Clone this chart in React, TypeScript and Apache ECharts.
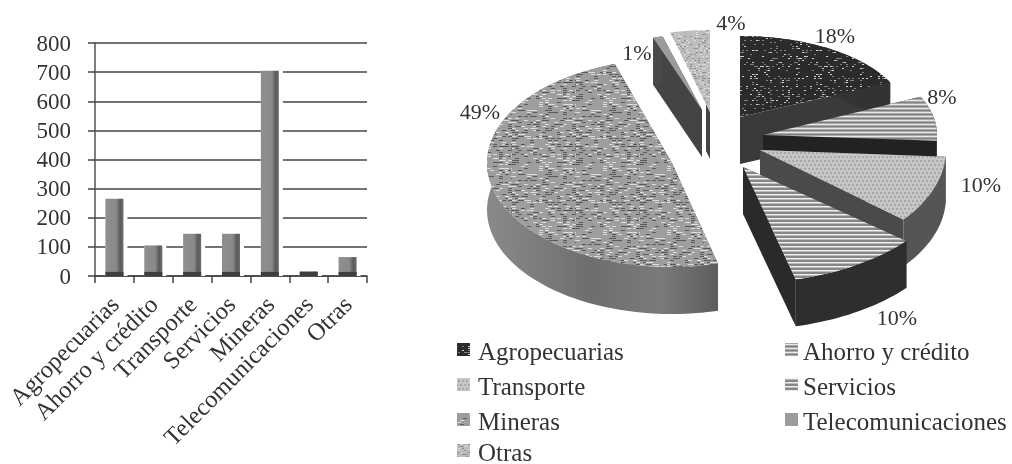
import React, { useEffect, useRef } from "react";
import * as echarts from "echarts";

const categories = ["Agropecuarias", "Ahorro y crédito", "Transporte", "Servicios", "Mineras", "Telecomunicaciones", "Otras"];
const barValues = [265, 105, 145, 145, 705, 15, 65];
const barBase = [14, 14, 14, 14, 14, 15, 14];
const yTicks = { min: 0, max: 800, interval: 100 };
const piePercents = [18, 8, 10, 10, 49, 1, 4];

// Layout of the exploded perspective pie (not data)
const pieCenter = [727, 145];
const explodeX = [13, 36, 33, 16, -55, -25, -17];
const explodeY = [-28, -10, 5, 22, 18, -35, -33];
const sliceRx = [166, 174, 186, 212, 185, 158, 160];
const sliceRy = [81, 90, 109, 116, 104, 76, 82];
const sliceDepth = 47;
const paintOrder = [6, 5, 0, 1, 2, 4, 3];
const startWallReach = [1, 1, 1, 1, 1, 1, 0.1];
const labelPos = [[835, 35], [942, 96], [981, 184], [897, 317], [480, 111], [637, 52], [731, 22]];
const wallColors = ["#333333", "#222222", "#555555", "#2e2e2e", "#777777", "#4a4a4a", "#555555"];
const radialColors = ["#3a3a3a", "#222222", "#4a4a4a", "#2a2a2a", "#666666", "#444444", "#444444"];
const legendCols = [457, 785];
const legendRows = [350, 385, 420, 451];
const FONT = "'Liberation Serif', serif";

function noise(x: number, y: number, s: number) {
  let h = (x * 374761393 + y * 668265263 + s * 1442695041) | 0;
  h = Math.imul(h ^ (h >>> 13), 1274126177);
  return ((h ^ (h >>> 16)) >>> 0) / 4294967296;
}

function makeTexture(kind: number) {
  const size = 64;
  const c = document.createElement("canvas");
  c.width = size;
  c.height = size;
  const g = c.getContext("2d")!;
  const fill = (col: string) => { g.fillStyle = col; g.fillRect(0, 0, size, size); };
  const dot = (x: number, y: number, w: number, h: number, col: string) => { g.fillStyle = col; g.fillRect(x, y, w, h); };
  if (kind === 0) {
    fill("#2b2b2b");
    for (let y = 0; y < size; y += 2) for (let x = 0; x < size; x += 2) {
      const n = noise(x, y, 1);
      if (n > 0.78) dot(x, y, 2, 1, n > 0.92 ? "#cfcfcf" : "#808080");
    }
  } else if (kind === 1) {
    fill("#a8a8a8");
    for (let y = 0; y < size; y += 4) { dot(0, y, size, 1, "#e8e8e8"); dot(0, y + 2, size, 1, "#808080"); }
  } else if (kind === 2) {
    fill("#c6c6c6");
    for (let y = 0; y < size; y += 4) for (let x = (y % 8 === 0 ? 0 : 2); x < size; x += 4) dot(x, y, 2, 2, "#a8a8a8");
  } else if (kind === 3) {
    fill("#bcbcbc");
    for (let y = 0; y < size; y += 4) { dot(0, y, size, 2, "#868686"); dot(0, y + 2, size, 1, "#efefef"); }
  } else if (kind === 4) {
    fill("#9e9e9e");
    for (let y = 0; y < size; y += 2) for (let x = 0; x < size; x += 3) {
      const n = noise(x, y, 2);
      if (n > 0.8) dot(x, y, 4, 1, "#5a5a5a");
      else if (n < 0.18) dot(x, y, 4, 1, "#dcdcdc");
    }
  } else if (kind === 5) {
    fill("#9c9c9c");
  } else {
    fill("#bdbdbd");
    for (let y = 0; y < size; y += 2) for (let x = 0; x < size; x += 2) {
      const n = noise(x, y, 3);
      if (n > 0.8) dot(x, y, 2, 1, "#8f8f8f");
      else if (n < 0.2) dot(x, y, 2, 1, "#dedede");
    }
  }
  return { image: c.toDataURL(), repeat: "repeat", imageWidth: size, imageHeight: size } as any;
}

export default function App() {
  const ref = useRef<HTMLDivElement>(null);
  useEffect(() => {
    document.body.style.margin = "0";
    const chart = echarts.init(ref.current!, null, { renderer: "svg" });
    const textures = categories.map((_, i) => makeTexture(i));
    const total = piePercents.reduce((a, b) => a + b, 0);
    const starts: number[] = [];
    piePercents.reduce((acc, v, i) => { starts[i] = acc; return acc + v; }, 0);

    const renderSlice = (params: any, api: any) => {
      const i = paintOrder[params.dataIndex];
      const value = api.value(0);
      const a0 = (starts[i] / total) * Math.PI * 2;
      const a1 = a0 + (value / total) * Math.PI * 2;
      const ax = pieCenter[0] + explodeX[i];
      const ay = pieCenter[1] + explodeY[i];
      const rim: number[][] = [];
      const steps = Math.max(3, Math.ceil((a1 - a0) / 0.03));
      for (let k = 0; k <= steps; k++) {
        const t = a0 + ((a1 - a0) * k) / steps;
        rim.push([ax + sliceRx[i] * Math.sin(t), ay - sliceRy[i] * Math.cos(t)]);
      }
      const down = (p: number[]) => [p[0], p[1] + sliceDepth];
      const apex = [ax, ay];
      const f = startWallReach[i];
      const wallStart = [ax + (rim[0][0] - ax) * f, ay + (rim[0][1] - ay) * f];
      const wallEnd = [ax + (rim[steps][0] - ax) * f, ay + (rim[steps][1] - ay) * f];
      const wallFill = i === 4
        ? { type: "linear", x: 0, y: 0, x2: 1, y2: 0, colorStops: [
            { offset: 0, color: "#8a8a8a" }, { offset: 0.45, color: "#6e6e6e" }, { offset: 0.75, color: "#7a7a7a" }, { offset: 1, color: "#5c5c5c" }] }
        : wallColors[i];
      const children: any[] = [
        { type: "polygon", shape: { points: [apex, wallStart, down(wallStart), down(apex)] }, style: { fill: radialColors[i] } },
        { type: "polygon", shape: { points: [apex, wallEnd, down(wallEnd), down(apex)] }, style: { fill: radialColors[i] } },
      ];
      if (f === 1) children.push({ type: "polygon", shape: { points: [...rim, ...rim.map(down).reverse()] }, style: { fill: wallFill } });
      children.push({ type: "polygon", shape: { points: [apex, ...rim] }, style: { fill: textures[i] } });
      return { type: "group", children };
    };

    const percentTexts = piePercents.map((v, i) => ({
      type: "text", x: labelPos[i][0], y: labelPos[i][1], z: 50,
      style: { text: `${v}%`, font: `22px ${FONT}`, fill: "#333333", textAlign: "center", textVerticalAlign: "middle" },
    }));
    const legendItems = categories.flatMap((name, i) => {
      const x = legendCols[i % 2];
      const y = legendRows[Math.floor(i / 2)];
      return [
        { type: "rect", z: 50, shape: { x, y: y - 7, width: 13, height: 13 }, style: { fill: textures[i] } },
        { type: "text", z: 50, x: x + (i % 2 ? 18 : 21), y: y + 1, style: { text: name, font: `25px ${FONT}`, fill: "#333333", textAlign: "left", textVerticalAlign: "middle" } },
      ];
    });

    chart.setOption({
      animation: false,
      backgroundColor: "#ffffff",
      grid: { left: 95, top: 43, width: 272, height: 233, containLabel: false },
      xAxis: {
        type: "category",
        data: categories,
        axisLine: { lineStyle: { color: "#444444", width: 1.5 } },
        axisTick: { show: true, length: 7, lineStyle: { color: "#444444", width: 1.5 } },
        axisLabel: { rotate: 45, interval: 0, margin: 24, color: "#333333", fontSize: 24.5, fontFamily: FONT },
      },
      yAxis: {
        type: "value",
        min: yTicks.min, max: yTicks.max, interval: yTicks.interval,
        axisLine: { show: true, lineStyle: { color: "#555555", width: 1.5 } },
        axisTick: { show: true, length: 7, lineStyle: { color: "#444444", width: 1.5 } },
        axisLabel: { margin: 24, color: "#333333", fontSize: 23, fontFamily: FONT },
        splitLine: { show: true, lineStyle: { color: "#444444", width: 1.5 } },
      },
      series: [
        { type: "bar", data: barValues, barWidth: 22, barGap: "-100%", itemStyle: { color: "#ffffff" } },
        {
          type: "bar", data: barValues, barWidth: 18, barGap: "-100%",
          itemStyle: {
            color: { type: "linear", x: 0, y: 0, x2: 1, y2: 0, colorStops: [
              { offset: 0, color: "#8e8e8e" }, { offset: 0.6, color: "#8a8a8a" }, { offset: 0.82, color: "#5a5a5a" }, { offset: 1, color: "#6c6c6c" }] },
          },
        },
        { type: "bar", data: barBase, barWidth: 18, barGap: "-100%", itemStyle: { color: "#3e3e3e" } },
        { type: "custom", coordinateSystem: "none", renderItem: renderSlice, data: paintOrder.map((i) => piePercents[i]), silent: true },
      ],
      graphic: [...percentTexts, ...legendItems],
    });
    return () => chart.dispose();
  }, []);
  return <div ref={ref} style={{ position: "fixed", left: 0, top: 0, width: 1012, height: 464, filter: "blur(0.5px)" }} />;
}
